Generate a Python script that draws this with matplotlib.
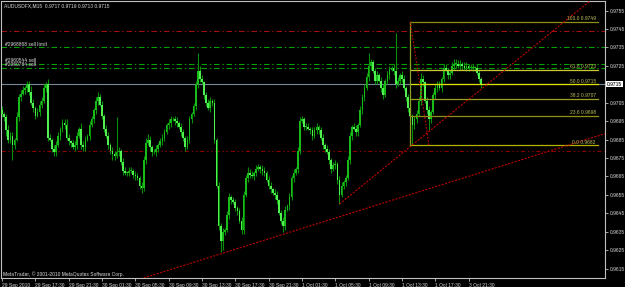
import matplotlib
matplotlib.use("Agg")
import matplotlib.pyplot as plt
import matplotlib.transforms as mtransforms
from matplotlib import font_manager
import numpy as np

plt.rcParams['lines.scale_dashes'] = False

# pick a narrow font if there is one, else Liberation Sans
narrow = [f.name for f in font_manager.fontManager.ttflist
          if 'Narrow' in f.name or 'Condensed' in f.name]
family = narrow[0] if narrow else 'Liberation Sans'
plt.rcParams['font.family'] = [family, 'DejaVu Sans']
fs = 4.4 if narrow else 3.8

# chart data (prices in pips, 0.0001)
header = "AUDUSDFX,M15  0.9717 0.9719 0.9713 0.9715"
first_open = 9701
close_pips = [
    9699, 9697, 9690, 9685, 9687, 9682, 9685, 9697, 9708, 9710,
    9712, 9713, 9715, 9711, 9705, 9702, 9698, 9700, 9704, 9706,
    9713, 9715, 9686, 9685, 9680, 9678, 9682, 9687, 9691, 9694,
    9693, 9686, 9684, 9683, 9681, 9682, 9687, 9691, 9682, 9681,
    9685, 9687, 9693, 9696, 9701, 9706, 9708, 9704, 9698, 9691,
    9687, 9682, 9679, 9677, 9676, 9678, 9679, 9673, 9668, 9667,
    9667, 9668, 9668, 9666, 9665, 9664, 9660, 9659, 9674, 9683,
    9685, 9681, 9678, 9678, 9680, 9682, 9684, 9686, 9689, 9693,
    9694, 9696, 9696, 9695, 9694, 9692, 9689, 9686, 9681, 9685,
    9696, 9699, 9703, 9715, 9722, 9718, 9716, 9709, 9705, 9702,
    9706, 9705, 9685, 9660, 9638, 9630, 9635, 9636, 9644, 9654,
    9652, 9651, 9648, 9646, 9641, 9636, 9655, 9664, 9667, 9666,
    9665, 9667, 9669, 9670, 9669, 9668, 9667, 9663, 9660, 9658,
    9656, 9655, 9652, 9645, 9641, 9638, 9647, 9649, 9654, 9664,
    9667, 9669, 9679, 9695, 9696, 9692, 9692, 9691, 9690, 9687,
    9690, 9692, 9690, 9686, 9682, 9680, 9678, 9674, 9669, 9671,
    9672, 9663, 9655, 9660, 9662, 9664, 9674, 9687, 9692, 9691,
    9689, 9693, 9701, 9708, 9713, 9719, 9725, 9727, 9722, 9717,
    9720, 9717, 9713, 9709, 9717, 9720, 9723, 9724, 9722, 9715,
    9717, 9720, 9718, 9713, 9708, 9702, 9698, 9693, 9696, 9699,
    9706, 9718, 9716, 9706, 9701, 9696, 9700, 9709, 9713, 9715,
    9713, 9718, 9724, 9723, 9720, 9721, 9725, 9726, 9726, 9725,
    9726, 9725, 9724, 9725, 9724, 9724, 9724, 9724, 9721, 9718, 9715,
]
wick_up = [
    2, 1, 2, 3, 2, 2, 1, 3, 2, 2,
    2, 1, 2, 2, 3, 2, 1, 2, 2, 2,
    2, 1, 3, 2, 1, 2, 2, 2, 1, 2,
    2, 3, 2, 1, 2, 2, 2, 1, 3, 2,
    2, 1, 2, 2, 1, 2, 3, 2, 2, 1,
    2, 2, 1, 2, 2, 19, 2, 1, 2, 2,
    1, 2, 2, 1, 2, 2, 1, 2, 2, 3,
    3, 2, 1, 2, 2, 1, 2, 2, 2, 1,
    2, 2, 1, 2, 2, 1, 2, 2, 1, 2,
    2, 1, 2, 2, 10, 3, 2, 1, 2, 2,
    2, 1, 2, 1, 2, 2, 2, 1, 2, 2,
    1, 2, 2, 1, 2, 2, 2, 2, 3, 2,
    2, 1, 2, 2, 1, 2, 2, 1, 2, 2,
    1, 2, 2, 1, 2, 2, 2, 1, 2, 2,
    2, 1, 2, 2, 2, 1, 2, 2, 1, 2,
    2, 2, 1, 2, 2, 1, 2, 2, 1, 2,
    2, 1, 2, 2, 1, 2, 2, 2, 1, 2,
    2, 1, 2, 2, 2, 2, 7, 2, 1, 2,
    2, 1, 2, 2, 1, 2, 2, 1, 2, 21,
    2, 1, 2, 2, 1, 2, 2, 1, 2, 2,
    2, 3, 2, 1, 2, 2, 1, 2, 2, 2,
    2, 1, 2, 2, 1, 2, 2, 3, 3, 2,
    2, 1, 2, 2, 1, 2, 2, 1, 2, 2, 1,
]
wick_dn = [
    2, 2, 3, 2, 2, 8, 2, 1, 2, 2,
    1, 2, 2, 2, 1, 2, 2, 1, 2, 2,
    1, 2, 2, 1, 2, 2, 2, 1, 2, 2,
    2, 1, 2, 2, 1, 2, 2, 1, 2, 2,
    2, 1, 2, 1, 2, 2, 2, 1, 2, 2,
    1, 2, 2, 3, 2, 1, 2, 2, 2, 1,
    2, 2, 1, 2, 2, 1, 2, 3, 2, 2,
    1, 2, 2, 1, 2, 2, 1, 2, 2, 1,
    2, 2, 1, 2, 2, 1, 2, 2, 2, 1,
    2, 2, 1, 2, 2, 2, 1, 2, 2, 1,
    2, 2, 2, 1, 2, 6, 5, 2, 1, 2,
    2, 1, 2, 2, 1, 2, 2, 1, 2, 2,
    1, 2, 2, 1, 2, 2, 2, 1, 2, 2,
    1, 2, 2, 1, 2, 3, 2, 1, 2, 2,
    2, 1, 2, 2, 1, 2, 2, 1, 2, 2,
    1, 2, 2, 1, 2, 2, 1, 2, 2, 1,
    2, 2, 5, 1, 2, 2, 1, 2, 2, 1,
    2, 2, 1, 2, 2, 1, 2, 2, 1, 2,
    2, 1, 2, 2, 1, 2, 2, 1, 2, 2,
    1, 2, 2, 1, 2, 2, 2, 11, 2, 2,
    1, 2, 2, 1, 2, 6, 2, 1, 2, 2,
    1, 2, 2, 1, 2, 2, 1, 2, 2, 1,
    2, 2, 1, 2, 2, 1, 2, 2, 1, 2, 2,
]
time_labels = [
    "29 Sep 2010", "29 Sep 17:30", "29 Sep 21:30", "30 Sep 01:30",
    "30 Sep 05:30", "30 Sep 09:30", "30 Sep 13:30", "30 Sep 17:30",
    "30 Sep 21:30", "1 Oct 01:30", "1 Oct 05:30", "1 Oct 09:30",
    "1 Oct 13:30", "1 Oct 17:30", "3 Oct 21:30",
]
bars_per_label = 16
price_ticks = [0.9615, 0.9625, 0.9635, 0.9645, 0.9655, 0.9665, 0.9675,
               0.9685, 0.9695, 0.9705, 0.9725, 0.9735, 0.9745, 0.9755]
bid = 0.9715

order_names = ["#2968868 sell limit", "#2960544 sell", "#2960784 sell"]
order_prices = [0.9735, 0.9726, 0.9724]
red_levels = [0.9744, 0.9679]

fib_names = ["0.0", "23.6", "38.2", "50.0", "61.8", "100.0"]
fib_prices = [0.9682, 0.9698, 0.9707, 0.9715, 0.9723, 0.9749]
fib_bars = [196, 205]      # anchor bars (high, low)
fib_right = 286

shallow_line = [(105, 0.9623), (290, 0.96884)]
steep_line = [(162, 0.9650), (282, 0.9760)]

# build candles
c = np.array(close_pips) / 1e4
o = np.r_[first_open / 1e4, c[:-1]]
hi = np.maximum(o, c) + np.array(wick_up) / 1e4
lo = np.minimum(o, c) - np.array(wick_dn) / 1e4
x = np.arange(len(c))

fig = plt.figure(figsize=(6.25, 2.87), dpi=100, facecolor='black')
ax = fig.add_axes([1 / 625, 9 / 287, 604 / 625, 277 / 287], facecolor='black')
ax.set_xlim(-0.5, 289.5)
ax.set_ylim(0.96099, 0.97602)

fg = '#c0c0c0'
for s in ax.spines.values():
    s.set_color(fg)
    s.set_linewidth(0.8)

# horizontal objects
for p in order_prices:
    ax.axhline(p, color='#00a000', lw=0.8, dashes=(4, 2, 1, 2), zorder=1)
ax.axhline(red_levels[0], color='#a01010', lw=0.8, dashes=(4, 2, 1, 2), zorder=1)
ax.axhline(red_levels[1], color='#8b0000', lw=0.8, dashes=(3, 2, 1, 2, 1, 2), zorder=1)
ax.axhline(bid, color='#778899', lw=0.8, zorder=1)

# candles
ax.vlines(x, lo, hi, color='#089008', lw=0.8, zorder=3)
up = c >= o
body = np.maximum(np.abs(c - o), 0.00004)
ax.bar(x[up], body[up], bottom=np.minimum(o, c)[up], width=0.8,
       color='#18bb18', lw=0, zorder=4)
ax.bar(x[~up], body[~up], bottom=np.minimum(o, c)[~up], width=0.8,
       color='#50f050', lw=0, zorder=4)

# fibonacci
fib_cols = ['#b4b400', '#909014', '#a0a020', '#e0e000', '#c8c832', '#909014']
for name, p, col in zip(fib_names, fib_prices, fib_cols):
    ax.plot([fib_bars[0], fib_right], [p, p], color=col, lw=0.9, zorder=5)
    ax.text(fib_right - 1, p + 0.00003, f"{name} {p:.4f}", color='#a8a850',
            fontsize=fs, ha='right', va='bottom', zorder=6)
ax.plot([fib_bars[0], fib_bars[0]], [fib_prices[0], fib_prices[-1]],
        color='#8ca020', lw=0.9, zorder=5)
ax.plot(fib_bars, [fib_prices[-1], fib_prices[0]], color='#c00000', lw=0.8,
        dashes=(1.2, 1.2), zorder=5)

# trend lines
ax.axline(shallow_line[0], shallow_line[1], color='#c00000', lw=0.8,
          dashes=(1.5, 1), zorder=5)
(x0, y0), (x1, y1) = steep_line
ax.plot([x0, 300], [y0, y0 + (y1 - y0) / (x1 - x0) * (300 - x0)],
        color='#c00000', lw=0.8, dashes=(1.5, 1), zorder=5)

# texts
tr = mtransforms.blended_transform_factory(ax.transAxes, ax.transData)
for name, p in zip(order_names, order_prices):
    ax.text(0.006, p + 0.00004, name, transform=tr, color=fg, fontsize=fs,
            ha='left', va='bottom', zorder=6)
ax.text(0.005, 0.984, header, transform=ax.transAxes, color=fg, fontsize=fs,
        ha='left', va='center')
ax.text(0.004, 0.014, "MetaTrader, \u00a9 2001-2010 MetaQuotes Software Corp.",
        transform=ax.transAxes, color=fg, fontsize=fs, ha='left', va='center')
ax.text(1.003, bid, f"{bid:.4f}", transform=tr, color='black', fontsize=fs,
        ha='left', va='center', clip_on=False,
        bbox=dict(fc='white', ec='none', pad=0.5))

# axes ticks
ax.yaxis.tick_right()
ax.set_yticks(price_ticks)
ax.set_yticklabels([f"{p:.4f}" for p in price_ticks])
ax.set_xticks(np.arange(len(time_labels)) * bars_per_label)
ax.set_xticklabels(time_labels, ha='left')
ax.tick_params(colors=fg, labelsize=fs, length=2.5, width=0.6, pad=1)

fig.savefig("out.png", dpi=100, facecolor='black')
